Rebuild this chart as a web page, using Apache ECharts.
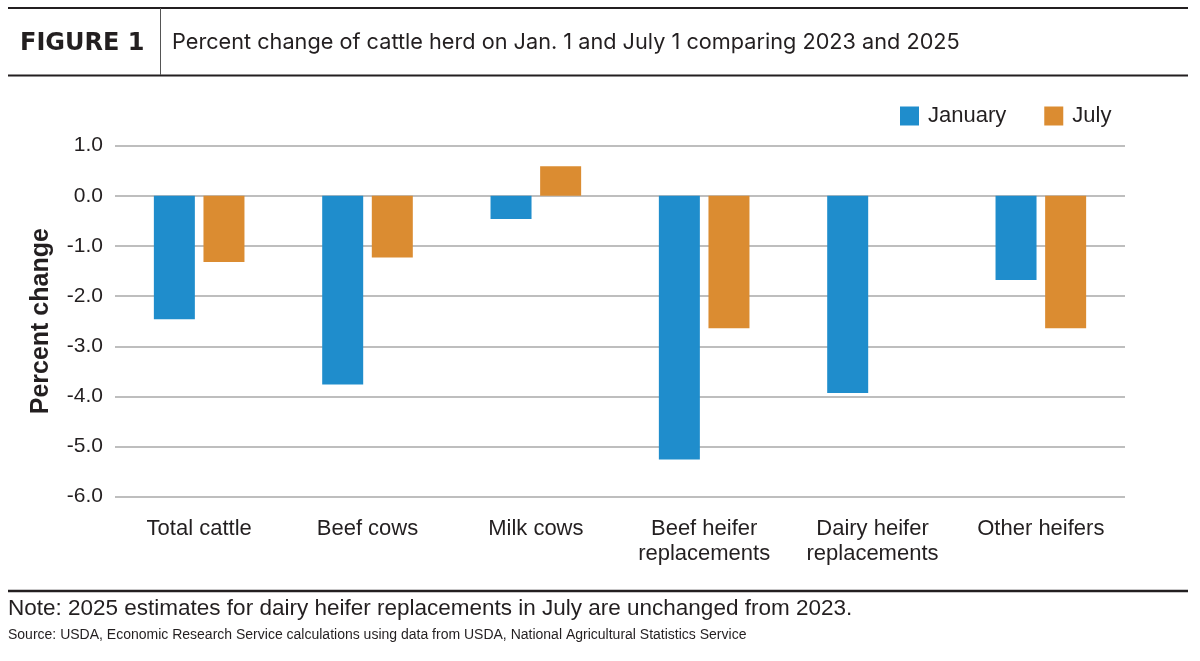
<!DOCTYPE html>
<html>
<head>
<meta charset="utf-8">
<script src="https://cdn.jsdelivr.net/npm/echarts@6/dist/echarts.min.js"></script>
<style>
html,body{margin:0;padding:0;background:#fff;}
#chart{width:1200px;height:661px;}
</style>
</head>
<body>
<div id="chart"></div>
<script>
const categories = ['Total cattle', 'Beef cows', 'Milk cows', 'Beef heifer\nreplacements', 'Dairy heifer\nreplacements', 'Other heifers'];
const january = [-2.46, -3.76, -0.46, -5.26, -3.93, -1.68];
const july = [-1.32, -1.23, 0.59, -2.64, 0, -2.64];
const yTicks = { min: -6, max: 1, interval: 1 };

const textColor = '#231f20';
const sans = '"Liberation Sans", Arial, sans-serif';
const chart = echarts.init(document.getElementById('chart'), null, { renderer: 'canvas' });

chart.setOption({
  animation: false,
  backgroundColor: '#ffffff',
  grid: { left: 115, right: 75, top: 145.7, bottom: 164.3, containLabel: false },
  legend: {
    left: 900, top: 105, padding: 0,
    icon: 'rect', itemWidth: 19, itemHeight: 19, itemGap: 38,
    textStyle: { fontFamily: sans, fontSize: 22, color: textColor, padding: [0, 0, 0, 4] },
    data: ['January', 'July']
  },
  xAxis: {
    type: 'category',
    data: categories,
    axisLine: { show: false },
    axisTick: { show: false },
    axisLabel: { interval: 0, fontFamily: sans, fontSize: 22, color: textColor, margin: 20, lineHeight: 25 }
  },
  yAxis: {
    type: 'value',
    min: yTicks.min, max: yTicks.max, interval: yTicks.interval,
    name: 'Percent change',
    nameLocation: 'middle',
    nameGap: 61,
    nameRotate: 90,
    nameTextStyle: { fontFamily: sans, fontWeight: 'bold', fontSize: 25, color: textColor },
    axisLine: { show: false },
    axisTick: { show: false },
    axisLabel: { fontFamily: sans, fontSize: 21, color: textColor, margin: 12, formatter: v => v.toFixed(1) },
    splitLine: { show: true, lineStyle: { color: '#a8a8a8', width: 1.5 } }
  },
  series: [
    { name: 'January', type: 'bar', data: january, barWidth: 41, barGap: '21%', itemStyle: { color: '#1f8dcc' } },
    { name: 'July', type: 'bar', data: july, barWidth: 41, itemStyle: { color: '#db8c31' } }
  ],
  graphic: [
    { type: 'line', shape: { x1: 8, y1: 8, x2: 1188, y2: 8 }, style: { stroke: '#231f20', lineWidth: 2 } },
    { type: 'line', shape: { x1: 8, y1: 75.5, x2: 1188, y2: 75.5 }, style: { stroke: '#231f20', lineWidth: 2 } },
    { type: 'line', shape: { x1: 160.5, y1: 8, x2: 160.5, y2: 75 }, style: { stroke: '#555', lineWidth: 1 } },
    { type: 'text', left: 20, top: 32, style: { text: 'FIGURE 1', font: 'bold 24px "DejaVu Sans"', fill: '#231f20' } },
    { type: 'text', left: 172, top: 31, style: { text: 'Percent change of cattle herd on Jan. 1 and July 1 comparing 2023 and 2025', font: '400 21.7px Inter', fill: '#231f20' } },
    { type: 'line', shape: { x1: 8, y1: 591, x2: 1188, y2: 591 }, style: { stroke: '#231f20', lineWidth: 2.5 } },
    { type: 'text', left: 8, top: 597, style: { text: 'Note: 2025 estimates for dairy heifer replacements in July are unchanged from 2023.', font: '22.5px ' + sans, fill: '#231f20' } },
    { type: 'text', left: 8, top: 628, style: { text: 'Source: USDA, Economic Research Service calculations using data from USDA, National Agricultural Statistics Service', font: '14px ' + sans, fill: '#231f20' } }
  ]
});
</script>
</body>
</html>
